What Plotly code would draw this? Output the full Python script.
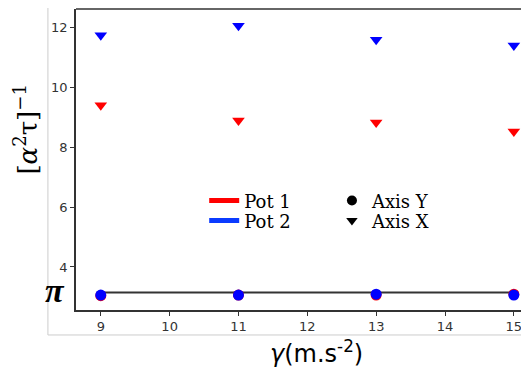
import math
import plotly.graph_objects as go

gamma = [9, 11, 13, 15]
pot1_axis_x = [9.41, 8.90, 8.83, 8.53]
pot2_axis_x = [11.75, 12.07, 11.60, 11.41]
pot1_axis_y = [3.04, 3.06, 3.06, 3.09]
pot2_axis_y = [3.06, 3.06, 3.09, 3.06]
pi_line_x = [9, 15]
pi_line_y = [math.pi, math.pi]
x_ticks = [9, 10, 11, 12, 13, 14, 15]
y_ticks = [4, 6, 8, 10, 12]

RED = "#ff0000"
BLUE = "#0000ff"

fig = go.Figure()

fig.add_trace(go.Scatter(x=pi_line_x, y=pi_line_y, mode="lines",
                         line=dict(color="#333333", width=2), showlegend=False))
fig.add_trace(go.Scatter(x=gamma, y=pot1_axis_y, mode="markers",
                         marker=dict(symbol="circle", size=11, color=RED), showlegend=False))
fig.add_trace(go.Scatter(x=gamma, y=pot2_axis_y, mode="markers",
                         marker=dict(symbol="circle", size=11, color=BLUE), showlegend=False))
fig.add_trace(go.Scatter(x=gamma, y=pot1_axis_x, mode="markers",
                         marker=dict(symbol="triangle-down", size=11, color=RED), showlegend=False))
fig.add_trace(go.Scatter(x=gamma, y=pot2_axis_x, mode="markers",
                         marker=dict(symbol="triangle-down", size=11, color=BLUE), showlegend=False))

# legend entries (one legend box per entry, for exact placement)
fig.add_trace(go.Scatter(x=[None], y=[None], mode="lines", name="Pot 1",
                         line=dict(color=RED, width=5), legend="legend"))
fig.add_trace(go.Scatter(x=[None], y=[None], mode="lines", name="Pot 2",
                         line=dict(color="#0b3bff", width=5), legend="legend2"))
fig.add_trace(go.Scatter(x=[None], y=[None], mode="markers", name="Axis Y",
                         marker=dict(symbol="circle", size=10, color="black"), legend="legend3"))
fig.add_trace(go.Scatter(x=[None], y=[None], mode="markers", name="Axis X",
                         marker=dict(symbol="triangle-down", size=10, color="black"), legend="legend4"))

legend_font = dict(family="DejaVu Serif", size=18, color="black")


def leg(x, y):
    return dict(x=x, y=y, xanchor="left", yanchor="middle",
                font=legend_font, bgcolor="rgba(0,0,0,0)")


# the page body has an 8px margin, so the figure is 8px smaller than the window
fig.update_layout(
    width=521, height=365,
    margin=dict(l=68, r=0, t=1, b=63),
    plot_bgcolor="white", paper_bgcolor="white",
    legend=leg(0.283, 0.3625),
    legend2=leg(0.283, 0.296),
    legend3=leg(0.565, 0.3625),
    legend4=leg(0.565, 0.296),
    xaxis=dict(range=[8.64, 15.22], tickvals=x_ticks, showgrid=False, zeroline=False,
               showline=True, linecolor="#333333", linewidth=1.5, mirror=False,
               ticks="outside", ticklen=4, tickcolor="#333333",
               tickfont=dict(family="DejaVu Sans", size=13, color="#333333")),
    yaxis=dict(range=[2.56, 12.63], tickvals=y_ticks, showgrid=False, zeroline=False,
               showline=True, linecolor="#333333", linewidth=1.5,
               ticks="outside", ticklen=4, tickcolor="#333333",
               tickfont=dict(family="DejaVu Sans", size=13, color="#333333")),
    shapes=[
        dict(type="line", xref="paper", yref="paper", x0=0, x1=1.05, y0=1, y1=1,
             line=dict(color="#333333", width=1.5)),
        dict(type="line", xref="paper", yref="paper", x0=-0.062, x1=-0.062, y0=-0.083, y1=1.008,
             line=dict(color="#cccccc", width=1)),
        dict(type="line", xref="paper", yref="paper", x0=-0.062, x1=1.05, y0=-0.083, y1=-0.083,
             line=dict(color="#cccccc", width=1)),
    ],
    annotations=[
        dict(text="<b><i>π</i></b>", xref="paper", yref="paper", x=-0.046, y=0.065,
             xanchor="center", yanchor="middle", showarrow=False,
             font=dict(family="Liberation Serif", size=34, color="black")),
        dict(text="[<i>α</i><sup>2</sup>τ]<sup>−1</sup>", xref="paper", yref="paper",
             x=-0.11, y=0.6, textangle=-90, xanchor="center", yanchor="middle",
             showarrow=False, font=dict(family="DejaVu Serif", size=26, color="black")),
        dict(text="<i>γ</i>(m.s<sup>-2</sup>)", xref="paper", yref="paper",
             x=0.53, y=-0.14, xanchor="center", yanchor="middle",
             showarrow=False, font=dict(family="DejaVu Sans", size=24, color="black")),
    ],
)

fig.write_html("out.html")
